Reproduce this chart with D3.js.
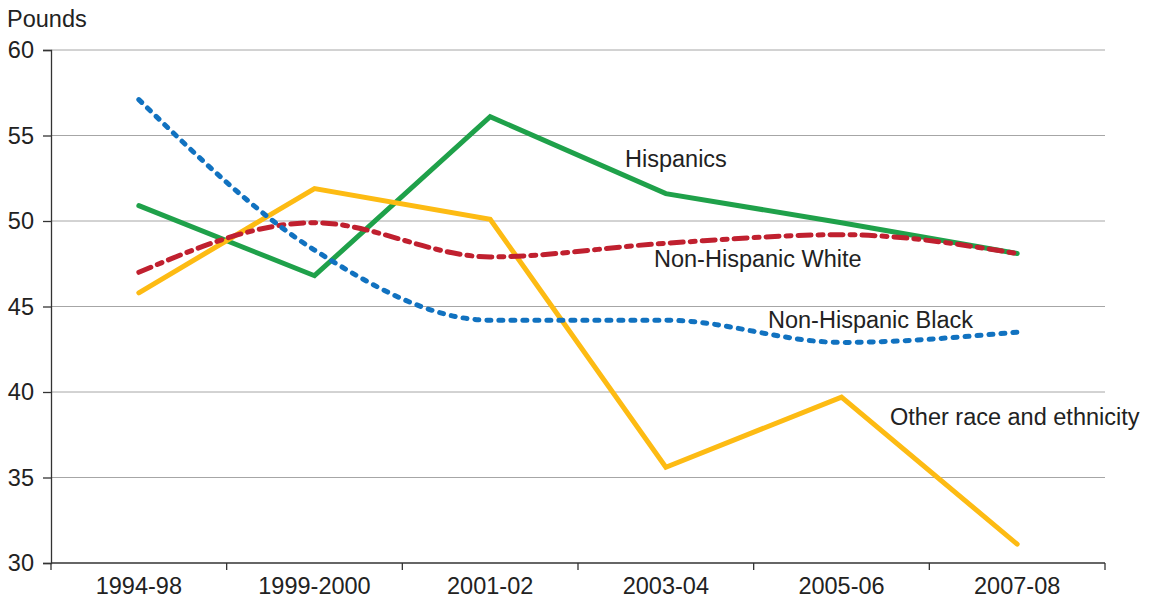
<!DOCTYPE html>
<html>
<head>
<meta charset="utf-8">
<script src="https://cdn.jsdelivr.net/npm/d3@7/dist/d3.min.js"></script>
<style>
  html, body { margin: 0; padding: 0; background: #fff; }
  svg { display: block; font-family: "Liberation Sans", Arial, Helvetica, sans-serif; }
</style>
</head>
<body>
<svg id="chart" width="1149" height="603"></svg>
<script>
// Periods on the horizontal axis
const periods = ["1994-98", "1999-2000", "2001-02", "2003-04", "2005-06", "2007-08"];

// Pounds per person, by group
const hispanics = [50.9, 46.8, 56.1, 51.6, 49.9, 48.1];
const nonHispanicWhite = [47.0, 49.9, 47.9, 48.7, 49.2, 48.1];
const nonHispanicBlack = [57.1, 48.3, 44.2, 44.2, 42.9, 43.5];
const otherRace = [45.8, 51.9, 50.1, 35.6, 39.7, 31.1];

const yTicks = [30, 35, 40, 45, 50, 55, 60];

const FONT = 23.5;

const series = [
  { name: "Hispanics", values: hispanics, color: "#1fa14a", dash: null, smooth: false,
    label: { x: 625, y: 167 } },
  { name: "Other race and ethnicity", values: otherRace, color: "#fdbb13", dash: null, smooth: false,
    label: { x: 890, y: 425 } },
  { name: "Non-Hispanic White", values: nonHispanicWhite, color: "#c0202f", dash: "13,7,5,7", smooth: true,
    label: { x: 654, y: 267 } },
  { name: "Non-Hispanic Black", values: nonHispanicBlack, color: "#1172c0", dash: "4,8", smooth: true,
    label: { x: 768, y: 328 } }
];

const svg = d3.select("#chart");
const plotLeft = 51, plotRight = 1105, plotTop = 50, plotBottom = 563;

const x = d3.scaleBand().domain(periods).range([plotLeft, plotRight]);
const y = d3.scaleLinear().domain([30, 60]).range([plotBottom, plotTop]);

// Horizontal gridlines
svg.append("g")
  .selectAll("line")
  .data(yTicks.filter(t => t > 30))
  .join("line")
  .attr("x1", plotLeft).attr("x2", plotRight)
  .attr("y1", d => y(d)).attr("y2", d => y(d))
  .attr("stroke", "#a6a6a6").attr("stroke-width", 1);

// Y axis
const yAxis = svg.append("g")
  .attr("transform", `translate(${plotLeft},0)`)
  .call(d3.axisLeft(y).tickValues(yTicks).tickSize(8).tickPadding(9));
yAxis.select(".domain").attr("stroke", "#333").attr("stroke-width", 1.3);
yAxis.selectAll(".tick line").attr("stroke", "#333").attr("stroke-width", 1.3);
yAxis.selectAll(".tick text")
  .attr("font-size", FONT).attr("fill", "#222")
  .attr("font-family", "Liberation Sans, Arial, sans-serif");

// X axis with ticks at category boundaries
const xAxis = svg.append("g")
  .attr("transform", `translate(0,${plotBottom})`);
xAxis.append("line")
  .attr("x1", plotLeft).attr("x2", plotRight)
  .attr("stroke", "#333").attr("stroke-width", 1.3);
const bounds = periods.map(p => x(p)).concat([x(periods[periods.length - 1]) + x.bandwidth()]);
xAxis.selectAll("line.tk")
  .data(bounds)
  .join("line").attr("class", "tk")
  .attr("x1", d => d).attr("x2", d => d)
  .attr("y1", 0).attr("y2", 7)
  .attr("stroke", "#333").attr("stroke-width", 1.3);
xAxis.selectAll("text")
  .data(periods)
  .join("text")
  .attr("x", d => x(d) + x.bandwidth() / 2)
  .attr("y", 31)
  .attr("text-anchor", "middle")
  .attr("font-size", FONT).attr("fill", "#222")
  .text(d => d);

// Unit label
svg.append("text")
  .attr("x", 7).attr("y", 27)
  .attr("font-size", FONT).attr("fill", "#222")
  .text("Pounds");

// Series lines
const cx = i => x(periods[i]) + x.bandwidth() / 2;
series.forEach(s => {
  const line = d3.line()
    .x((d, i) => cx(i))
    .y(d => y(d))
    .curve(s.smooth ? d3.curveMonotoneX : d3.curveLinear);
  svg.append("path")
    .datum(s.values)
    .attr("d", line)
    .attr("fill", "none")
    .attr("stroke", s.color)
    .attr("stroke-width", 5)
    .attr("stroke-linecap", "round")
    .attr("stroke-linejoin", "miter")
    .attr("stroke-dasharray", s.dash);
});

// Series labels
svg.append("g")
  .selectAll("text")
  .data(series)
  .join("text")
  .attr("x", d => d.label.x)
  .attr("y", d => d.label.y)
  .attr("font-size", FONT).attr("fill", "#222")
  .text(d => d.name);
</script>
</body>
</html>
